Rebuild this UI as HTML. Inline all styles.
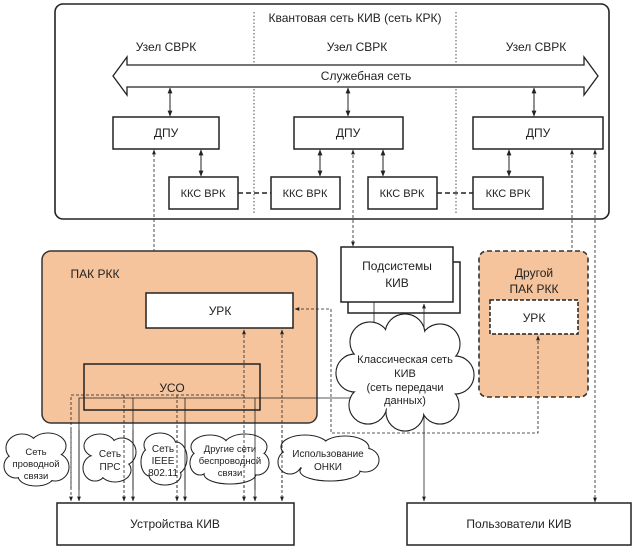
<!DOCTYPE html>
<html><head><meta charset="utf-8"><style>
html,body{margin:0;padding:0;background:#fff;}
svg text{font-family:"Liberation Sans",Arial,sans-serif;fill:#222;}
</style></head><body>
<svg width="635" height="547" viewBox="0 0 635 547" xmlns="http://www.w3.org/2000/svg">
<defs>
<marker id="a" viewBox="0 0 10 10" refX="9" refY="5" markerWidth="6" markerHeight="6" orient="auto-start-reverse"><path d="M0,1 L10,5 L0,9 z" fill="#222"/></marker>
</defs>
<g stroke="#222" fill="none">
<rect x="55" y="4" width="554" height="215" rx="8" stroke-width="1.6"/>
<line x1="254" y1="12" x2="254" y2="215" stroke-dasharray="1.5,2" stroke-width="0.8"/>
<line x1="456" y1="12" x2="456" y2="215" stroke-dasharray="1.5,2" stroke-width="0.8"/>
<path d="M113,76 L127,57 L127,65 L584,65 L584,57 L598,76 L584,95 L584,87 L127,87 L127,95 Z" fill="#fff" stroke-width="1.3"/>
<line x1="170" y1="88" x2="170" y2="116" marker-start="url(#a)" marker-end="url(#a)"/>
<line x1="348" y1="88" x2="348" y2="116" marker-start="url(#a)" marker-end="url(#a)"/>
<line x1="534" y1="88" x2="534" y2="116" marker-start="url(#a)" marker-end="url(#a)"/>
<rect x="113" y="117" width="106" height="32" fill="#fff" stroke-width="1.5"/>
<rect x="294" y="117" width="109" height="32" fill="#fff" stroke-width="1.5"/>
<rect x="473" y="117" width="130" height="32" fill="#fff" stroke-width="1.5"/>
<line x1="201" y1="150" x2="201" y2="176" marker-start="url(#a)" marker-end="url(#a)"/>
<line x1="320" y1="150" x2="320" y2="176" marker-start="url(#a)" marker-end="url(#a)"/>
<line x1="383" y1="150" x2="383" y2="176" marker-start="url(#a)" marker-end="url(#a)"/>
<line x1="509" y1="150" x2="509" y2="176" marker-start="url(#a)" marker-end="url(#a)"/>
<rect x="169" y="177" width="69" height="32" fill="#fff" stroke-width="1.5"/>
<rect x="271" y="177" width="69" height="32" fill="#fff" stroke-width="1.5"/>
<rect x="368" y="177" width="69" height="32" fill="#fff" stroke-width="1.5"/>
<rect x="473" y="177" width="70" height="32" fill="#fff" stroke-width="1.5"/>
<line x1="238" y1="193" x2="271" y2="193" stroke-dasharray="5,3" stroke-width="1.5"/>
<line x1="437" y1="193" x2="473" y2="193" stroke-dasharray="5,3" stroke-width="1.5"/>
<line x1="154" y1="252" x2="154" y2="150" stroke-dasharray="3,2" stroke-width="0.8" marker-end="url(#a)"/>
<line x1="353" y1="150" x2="353" y2="246" stroke-dasharray="3,2" stroke-width="0.8" marker-start="url(#a)" marker-end="url(#a)"/>
<line x1="572" y1="150" x2="572" y2="299" stroke-dasharray="3,2" stroke-width="0.8" marker-start="url(#a)" marker-end="url(#a)"/>
<line x1="595" y1="150" x2="595" y2="502" stroke-dasharray="3,2" stroke-width="0.8" marker-start="url(#a)" marker-end="url(#a)"/>
<rect x="42" y="251" width="275" height="172" rx="9" fill="#f6c49c" stroke="#333" stroke-width="1.5"/>
<rect x="146" y="293" width="147" height="35" fill="#fff" stroke-width="1.5"/>
<rect x="84" y="364" width="176" height="46" stroke-width="1.5"/>
<rect x="479" y="251" width="109" height="146" rx="8" fill="#f6c49c" stroke="#333" stroke-width="1.6" stroke-dasharray="5,3"/>
<rect x="490" y="300" width="88" height="34" fill="#fff" stroke-width="1.5" stroke-dasharray="4,2"/>
<rect x="348" y="262" width="112" height="51" fill="#fff" stroke-width="1.5"/>
<rect x="341" y="247" width="112" height="55" fill="#fff" stroke-width="1.5"/>
<rect x="57" y="503" width="237" height="42" fill="#fff" stroke-width="1.5"/>
<rect x="407" y="503" width="224" height="42" fill="#fff" stroke-width="1.5"/>
<g stroke-width="0.8">
<path d="M244,395 L71,395 L71,501" stroke-dasharray="3,2" marker-end="url(#a)"/>
<line x1="124" y1="395" x2="124" y2="501" stroke-dasharray="3,2" marker-end="url(#a)"/>
<line x1="177" y1="395" x2="177" y2="501" stroke-dasharray="3,2" marker-end="url(#a)"/>
<path d="M374,302 L374,398 L79,398 L79,501" marker-end="url(#a)"/>
<line x1="133" y1="398" x2="133" y2="501" marker-end="url(#a)"/>
<line x1="185" y1="398" x2="185" y2="501" marker-end="url(#a)"/>
<line x1="255" y1="398" x2="255" y2="501" marker-end="url(#a)"/>
<line x1="244" y1="330" x2="244" y2="501" stroke-dasharray="3,2" marker-start="url(#a)" marker-end="url(#a)"/>
<line x1="282" y1="330" x2="282" y2="501" stroke-dasharray="3,2" marker-start="url(#a)" marker-end="url(#a)"/>
<line x1="424" y1="304" x2="424" y2="501" marker-start="url(#a)" marker-end="url(#a)"/>
<path d="M538,336 L538,433 L331,433 L331,309 L295,309" stroke-dasharray="3,2" marker-start="url(#a)" marker-end="url(#a)"/>
</g>
<!-- Classic cloud -->
<g stroke-width="1.2">
<g><circle cx="370" cy="342" r="20"/><circle cx="405" cy="334" r="20"/><circle cx="440" cy="344" r="20"/><circle cx="455" cy="375" r="19"/><circle cx="440" cy="405" r="19"/><circle cx="405" cy="412" r="19"/><circle cx="368" cy="405" r="19"/><circle cx="355" cy="373" r="19"/></g>
<g fill="#fff" stroke="none"><circle cx="370" cy="342" r="19.4"/><circle cx="405" cy="334" r="19.4"/><circle cx="440" cy="344" r="19.4"/><circle cx="455" cy="375" r="18.4"/><circle cx="440" cy="405" r="18.4"/><circle cx="405" cy="412" r="18.4"/><circle cx="368" cy="405" r="18.4"/><circle cx="355" cy="373" r="18.4"/><ellipse cx="405" cy="373" rx="50" ry="38"/></g>
</g>
<g stroke-width="1.1">
<g><ellipse cx="22" cy="448" rx="16" ry="14"/><ellipse cx="48" cy="446" rx="18" ry="13"/><ellipse cx="55" cy="467" rx="14" ry="14"/><ellipse cx="36" cy="476" rx="18" ry="10"/><ellipse cx="16" cy="466" rx="12" ry="12"/>
<ellipse cx="100" cy="446" rx="16" ry="12"/><ellipse cx="122" cy="452" rx="14" ry="14"/><ellipse cx="115" cy="470" rx="16" ry="12"/><ellipse cx="95" cy="468" rx="12" ry="13"/>
<ellipse cx="160" cy="445" rx="16" ry="12"/><ellipse cx="176" cy="458" rx="11" ry="16"/><ellipse cx="165" cy="475" rx="16" ry="10"/><ellipse cx="150" cy="462" rx="9" ry="14"/>
<ellipse cx="210" cy="447" rx="19" ry="12"/><ellipse cx="245" cy="447" rx="22" ry="13"/><ellipse cx="257" cy="463" rx="12" ry="12"/><ellipse cx="230" cy="474" rx="26" ry="10"/><ellipse cx="200" cy="463" rx="10" ry="12"/>
<ellipse cx="305" cy="447" rx="24" ry="12"/><ellipse cx="345" cy="448" rx="24" ry="12"/><ellipse cx="365" cy="460" rx="14" ry="12"/><ellipse cx="330" cy="471" rx="30" ry="10"/><ellipse cx="290" cy="462" rx="12" ry="12"/></g>
<g fill="#fff" stroke="none"><ellipse cx="22" cy="448" rx="15.4" ry="13.4"/><ellipse cx="48" cy="446" rx="17.4" ry="12.4"/><ellipse cx="55" cy="467" rx="13.4" ry="13.4"/><ellipse cx="36" cy="476" rx="17.4" ry="9.4"/><ellipse cx="16" cy="466" rx="11.4" ry="11.4"/><ellipse cx="36" cy="460" rx="22" ry="16"/>
<ellipse cx="100" cy="446" rx="15.4" ry="11.4"/><ellipse cx="122" cy="452" rx="13.4" ry="13.4"/><ellipse cx="115" cy="470" rx="15.4" ry="11.4"/><ellipse cx="95" cy="468" rx="11.4" ry="12.4"/><ellipse cx="109" cy="459" rx="16" ry="14"/>
<ellipse cx="160" cy="445" rx="15.4" ry="11.4"/><ellipse cx="176" cy="458" rx="10.4" ry="15.4"/><ellipse cx="165" cy="475" rx="15.4" ry="9.4"/><ellipse cx="150" cy="462" rx="8.4" ry="13.4"/><ellipse cx="163" cy="460" rx="14" ry="16"/>
<ellipse cx="210" cy="447" rx="18.4" ry="11.4"/><ellipse cx="245" cy="447" rx="21.4" ry="12.4"/><ellipse cx="257" cy="463" rx="11.4" ry="11.4"/><ellipse cx="230" cy="474" rx="25.4" ry="9.4"/><ellipse cx="200" cy="463" rx="9.4" ry="11.4"/><ellipse cx="229" cy="460" rx="30" ry="14"/>
<ellipse cx="305" cy="447" rx="23.4" ry="11.4"/><ellipse cx="345" cy="448" rx="23.4" ry="11.4"/><ellipse cx="365" cy="460" rx="13.4" ry="11.4"/><ellipse cx="330" cy="471" rx="29.4" ry="9.4"/><ellipse cx="290" cy="462" rx="11.4" ry="11.4"/><ellipse cx="328" cy="459" rx="38" ry="12"/></g>
</g>
<!-- lines visible through small clouds -->
<g stroke-width="0.8">
<line x1="71" y1="430" x2="71" y2="490" stroke-dasharray="3,2"/>
<line x1="79" y1="430" x2="79" y2="490"/>
<line x1="124" y1="430" x2="124" y2="490" stroke-dasharray="3,2"/>
<line x1="133" y1="430" x2="133" y2="490"/>
<line x1="177" y1="430" x2="177" y2="490" stroke-dasharray="3,2"/>
<line x1="185" y1="430" x2="185" y2="490"/>
<line x1="244" y1="430" x2="244" y2="490" stroke-dasharray="3,2"/>
<line x1="255" y1="430" x2="255" y2="490"/>
<line x1="282" y1="430" x2="282" y2="490" stroke-dasharray="3,2"/>
</g>
</g>
<g font-size="12" text-anchor="middle">
<text x="355" y="22">Квантовая сеть КИВ (сеть КРК)</text>
<text x="166" y="51">Узел СВРК</text>
<text x="357" y="51">Узел СВРК</text>
<text x="536" y="51">Узел СВРК</text>
<text x="366" y="80">Служебная сеть</text>
<text x="166" y="137">ДПУ</text>
<text x="348" y="137">ДПУ</text>
<text x="538" y="137">ДПУ</text>
<text x="203" y="197" font-size="11">ККС ВРК</text>
<text x="305" y="197" font-size="11">ККС ВРК</text>
<text x="402" y="197" font-size="11">ККС ВРК</text>
<text x="508" y="197" font-size="11">ККС ВРК</text>
<text x="95" y="278">ПАК РКК</text>
<text x="220" y="315">УРК</text>
<text x="172" y="392">УСО</text>
<text x="397" y="270">Подсистемы</text>
<text x="397" y="287">КИВ</text>
<text x="534" y="277">Другой</text>
<text x="534" y="293">ПАК РКК</text>
<text x="534" y="322">УРК</text>
<text x="405" y="363" font-size="11">Классическая сеть</text>
<text x="405" y="377" font-size="11">КИВ</text>
<text x="405" y="391" font-size="11">(сеть передачи</text>
<text x="405" y="404" font-size="11">данных)</text>
<text x="36" y="455" font-size="9.5">Сеть</text>
<text x="36" y="467" font-size="9.5">проводной</text>
<text x="36" y="479" font-size="9.5">связи</text>
<text x="110" y="457" font-size="10">Сеть</text>
<text x="110" y="470" font-size="10">ПРС</text>
<text x="163" y="452" font-size="10">Сеть</text>
<text x="163" y="464" font-size="10">IEEE</text>
<text x="163" y="476" font-size="10">802.11</text>
<text x="230" y="452" font-size="9.5">Другие сети</text>
<text x="230" y="464" font-size="9.5">беспроводной</text>
<text x="230" y="476" font-size="9.5">связи</text>
<text x="328" y="457" font-size="10">Использование</text>
<text x="328" y="470" font-size="10">ОНКИ</text>
<text x="175" y="528">Устройства КИВ</text>
<text x="519" y="528">Пользователи КИВ</text>
</g>
</svg>
</body></html>
